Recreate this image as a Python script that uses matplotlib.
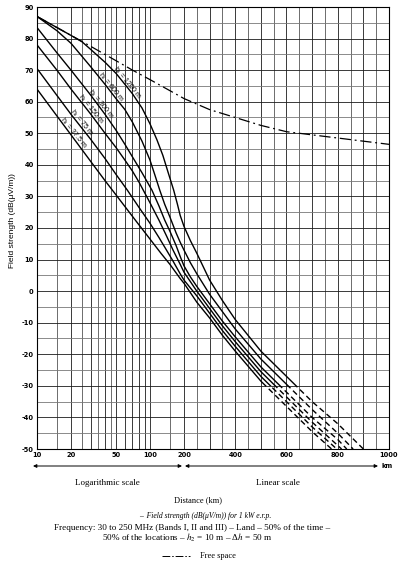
import numpy as np
import matplotlib
matplotlib.use('Agg')
import matplotlib.pyplot as plt
import matplotlib.transforms as mtransforms
from matplotlib.lines import Line2D
from matplotlib.patches import Rectangle

# values: distance (km) and field strength dB(uV/m)
fs_dist = [10, 20, 30, 50, 70, 100, 150, 200, 300, 400, 500, 600, 700, 800, 900, 1000]
fs_db = [87, 81, 77.5, 73, 70, 67, 63.5, 61, 57.5, 55, 52.5, 50.5, 49.5, 48.5, 47.5, 46.5]

h1_names = ['1200', '600', '300', '150', '75', '37.5']

d_1200 = [10, 15, 20, 25, 30, 40, 50, 60, 70, 85, 100, 115, 130, 145, 162, 175, 185, 200,
          225, 250, 300, 350, 400, 500, 600, 700, 800, 900]
e_1200 = [87, 83.5, 81, 79, 76.5, 72.5, 69, 65.5, 62.5, 58, 53, 48, 43, 37.5, 32, 27.5, 24, 20.5,
          16, 12, 3.5, -3, -9, -19, -27, -35, -42, -50]

d_600 = [10, 15, 20, 30, 40, 50, 60, 70, 85, 100, 110, 122, 135, 150, 170, 185, 200,
         225, 250, 300, 350, 400, 500, 600, 700, 800, 860]
e_600 = [87, 82.5, 78.5, 71, 65.5, 61, 57.5, 53.5, 47.5, 41.5, 37, 32, 27.5, 23.5, 18.5, 15.5, 13,
         9, 5.5, -1, -6.5, -12, -21.5, -29.5, -37.5, -45, -50]

d_300 = [10, 15, 20, 30, 40, 50, 60, 70, 85, 104, 120, 135, 150, 170, 185, 200,
         225, 250, 300, 350, 400, 500, 600, 700, 800, 835]
e_300 = [83.5, 75.5, 70, 62, 56, 51, 46.5, 42.5, 37.5, 32, 27, 22.5, 19, 14.5, 11, 8,
         4.5, 1.5, -4, -9.5, -14.5, -24, -32, -40, -47, -50]

d_150 = [10, 15, 20, 30, 40, 50, 60, 70, 80, 100, 120, 140, 160, 185, 200,
         225, 250, 300, 350, 400, 500, 600, 700, 815]
e_150 = [78, 70, 64, 56, 50, 45.5, 41.5, 38, 34.5, 28, 22.5, 17.5, 13, 8.5, 6,
         3, 0, -5.5, -11, -16, -25.5, -33.5, -41.5, -50]

d_75 = [10, 15, 20, 30, 40, 50, 63, 80, 100, 120, 140, 160, 185, 200,
        225, 250, 300, 350, 400, 500, 600, 700, 796]
e_75 = [70.5, 62, 56, 48, 42, 37, 32, 26.5, 21.5, 17, 13, 9.5, 5.5, 3.5,
        1, -1.5, -7, -12.5, -17.5, -27, -35, -43, -50]

d_37 = [10, 15, 20, 30, 40, 50, 60, 76, 100, 125, 150, 185, 200,
        225, 250, 300, 350, 400, 500, 600, 700, 776]
e_37 = [64, 55.5, 49.5, 41, 35, 30.5, 26.8, 22, 16.5, 12, 8.5, 4, 2.5,
        -0.5, -3.5, -8.5, -14, -19, -28.5, -36.5, -44.5, -50]

curves_d = [d_1200, d_600, d_300, d_150, d_75, d_37]
curves_e = [e_1200, e_600, e_300, e_150, e_75, e_37]

x_ticks = [10, 20, 50, 100, 200, 400, 600, 800, 1000]
y_ticks = list(range(-50, 91, 10))

# log scale 10..200 km, linear 200..1000 km
LOG_END = np.log10(20)
LIN_K = LOG_END * (205 / 147) / 800


def fwd(d):
    d = np.asarray(d, float)
    lg = np.log10(np.clip(d, 1e-6, None) / 10)
    return np.where(d <= 200, lg, LOG_END + (d - 200) * LIN_K)


def inv(u):
    u = np.asarray(u, float)
    return np.where(u <= LOG_END, 10 * 10 ** np.minimum(u, LOG_END),
                    200 + (u - LOG_END) / LIN_K)


plt.rcParams['mathtext.fontset'] = 'stix'
W, H = 399, 569
fig = plt.figure(figsize=(W / 100, H / 100), dpi=100)
ax = fig.add_axes([37 / W, 1 - 449 / H, 352 / W, 442 / H])
ax.set_xscale('function', functions=(fwd, inv))
ax.set_xlim(10, 1000)
ax.set_ylim(-50, 90)

# grid
v_dark = [10, 20, 30, 40, 50, 60, 70, 80, 90, 100, 200] + list(range(300, 1001, 100))
v_light = [15, 25, 35, 45, 150] + list(range(250, 1000, 100))
for v in v_dark:
    ax.axvline(v, color='#1a1a1a', lw=0.6, zorder=1)
for v in v_light:
    ax.axvline(v, color='#555555', lw=0.6, zorder=1)
for h in range(-50, 91, 5):
    ax.axhline(h, color='#1a1a1a' if h % 10 == 0 else '#777777', lw=0.6, zorder=1)

# free space
ax.plot(fs_dist, fs_db, color='black', lw=0.9, ls=(0, (9, 3, 1.5, 3)), zorder=3)

# curves, solid above -30 dB, dashed below
for d, e in zip(curves_d, curves_e):
    solid, = ax.plot(d, e, color='black', lw=1.0, zorder=3)
    dash, = ax.plot(d, e, color='black', lw=1.0, ls=(0, (4, 2.5)), zorder=3)
    solid.set_clip_path(Rectangle((10, -30), 990, 130, transform=ax.transData))
    dash.set_clip_path(Rectangle((10, -60), 990, 30, transform=ax.transData))

# curve labels, sitting just above each curve
lab_pos = [(60, 65.5), (43, 64.1), (35, 58.8), (28.5, 57), (23.5, 52.8), (20, 49.5)]
lab_tr = mtransforms.offset_copy(ax.transData, fig=fig, x=1.9, y=1.5, units='points')
for name, (x, y) in zip(h1_names, lab_pos):
    ax.text(x, y, 'h$_1$ = ' + name + ' m', rotation=-51, fontsize=5,
            ha='center', va='center', rotation_mode='anchor', transform=lab_tr,
            family='Liberation Sans', zorder=4)

ax.set_xticks(x_ticks)
ax.set_xticklabels([str(t) for t in x_ticks])
ax.set_yticks(y_ticks)
ax.set_yticklabels([str(t) for t in y_ticks])
ax.minorticks_off()
ax.tick_params(length=0, labelsize=4.8, pad=2.5)
for lab in ax.get_xticklabels() + ax.get_yticklabels():
    lab.set_fontweight('bold')
for s in ax.spines.values():
    s.set_linewidth(0.8)


def fpx(x, y):
    return x / W, 1 - y / H


# scale arrows
arr = dict(arrowstyle='<|-|>', lw=0.7, color='black', mutation_scale=5,
           shrinkA=0, shrinkB=0)
ax.annotate('', xy=fpx(33, 466), xytext=fpx(182, 466), xycoords='figure fraction',
            textcoords='figure fraction', arrowprops=arr)
ax.annotate('', xy=fpx(185, 466), xytext=fpx(378, 466), xycoords='figure fraction',
            textcoords='figure fraction', arrowprops=arr)
fig.text(*fpx(381, 466), 'km', fontsize=4.8, fontweight='bold', va='center', ha='left')

serif = 'Liberation Serif'
fig.text(*fpx(107, 483), 'Logarithmic scale', ha='center', va='center', fontsize=6.5, family=serif)
fig.text(*fpx(278, 483), 'Linear scale', ha='center', va='center', fontsize=6.5, family=serif)
fig.text(*fpx(198, 500), 'Distance (km)', ha='center', va='center', fontsize=6, family=serif)
fig.text(*fpx(205, 516), '–  Field strength (dB(μV/m)) for 1 kW e.r.p.', ha='center',
         va='center', fontsize=5.5, family=serif, style='italic')
fig.text(*fpx(192, 528), 'Frequency: 30 to 250 MHz (Bands I, II and III) – Land – 50% of the time –',
         ha='center', va='center', fontsize=6.6, family=serif)
fig.text(*fpx(187, 538), r'50% of the locations – $h_2$ = 10 m – Δ$h$ = 50 m',
         ha='center', va='center', fontsize=6.6, family=serif)
fig.add_artist(Line2D([162 / W, 190 / W], [1 - 556 / H] * 2, transform=fig.transFigure,
                      color='black', lw=0.7, ls=(0, (8, 2, 1.5, 2))))
fig.text(*fpx(200, 556), 'Free space', ha='left', va='center', fontsize=6, family=serif)

fig.text(*fpx(13, 221), 'Field strength (dB(μV/m))', rotation=90, ha='center', va='center',
         fontsize=6, family='Liberation Sans')

fig.savefig('out.png', dpi=100)
